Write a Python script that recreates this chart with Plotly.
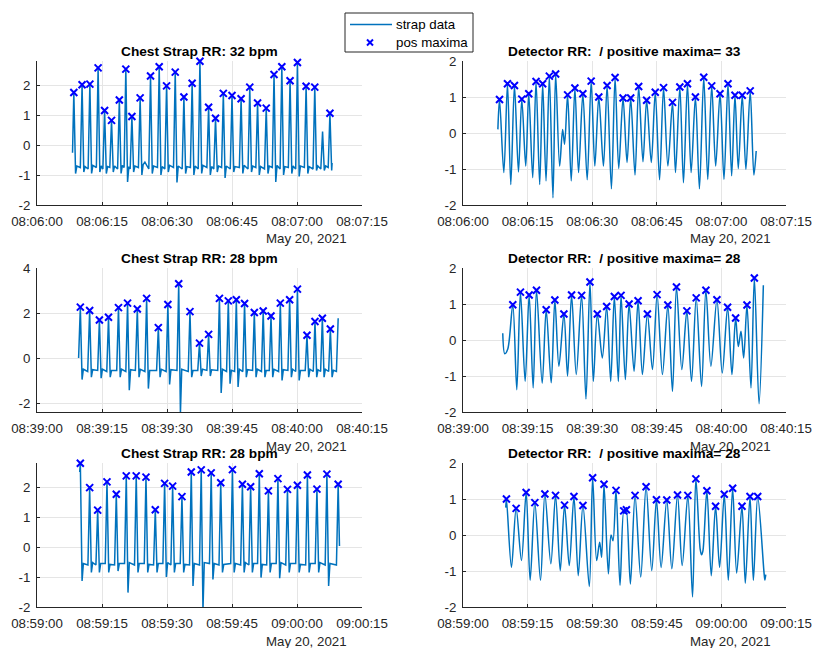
import plotly.graph_objects as go
import pandas as pd

# ---------------- data (seconds after the start minute, values) ----------------
base_times = ["2021-05-20 08:06:00", "2021-05-20 08:39:00", "2021-05-20 08:59:00"]

# Row 1, chest strap
tl_peak_t = [8.5, 10.4, 12.2, 14.1, 15.6, 17.2, 19.0, 20.5, 21.9, 23.8, 26.2, 28.2, 29.9, 31.9, 33.9, 35.8,
             37.6, 39.6, 41.2, 43.0, 45.0, 47.1, 49.1, 50.9, 52.9, 54.7, 56.5, 58.4, 60.1, 62.1, 64.1, 67.6]
tl_peak_v = [1.75, 2.01, 2.03, 2.57, 1.15, 0.82, 1.50, 2.53, 0.95, 1.57, 2.30, 2.61, 1.97, 2.43, 1.60, 2.06,
             2.79, 1.26, 0.89, 1.72, 1.65, 1.54, 1.93, 1.40, 1.23, 2.35, 2.61, 2.14, 2.75, 1.96, 1.93, 1.06]
tl_other_t = [8.2, 8.9, 10.0, 10.8, 11.8, 12.6, 13.7, 14.5, 15.2, 16.0, 16.8, 17.6, 18.6, 19.4, 20.1, 20.9,
              21.5, 22.3, 23.4, 24.2, 24.9, 25.8, 26.6, 27.8, 28.6, 29.5, 30.3, 31.5, 32.3, 33.5, 34.3, 35.4,
              36.2, 37.2, 38.0, 39.2, 40.0, 40.8, 41.6, 42.6, 43.4, 44.6, 45.4, 46.7, 47.5, 48.7, 49.5, 50.5,
              51.3, 52.5, 53.3, 54.3, 55.1, 56.1, 56.9, 58.0, 58.8, 59.7, 60.5, 61.7, 62.5, 63.7, 64.5, 65.5,
              65.9, 66.3, 67.2, 68.0, 68.1]
tl_other_v = [-0.26, -0.95, -0.75, -0.9, -0.8, -0.95, -0.75, -0.9, -0.8, -0.95, -0.75, -0.9, -0.8, -0.95, -0.75,
              -1.23, -0.8, -0.9, -0.75, -1.0, -0.57, -0.8, -0.95, -0.75, -1.0, -0.8, -0.9, -0.75, -1.25, -0.8,
              -0.95, -0.75, -1.0, -0.8, -0.95, -0.75, -1.0, -0.8, -0.9, -0.75, -1.1, -0.8, -0.9, -0.75, -0.95,
              -0.8, -0.9, -0.75, -1.0, -0.8, -0.95, -0.75, -1.23, -0.8, -1.0, -0.75, -0.95, -0.8, -1.05, -0.75,
              -0.95, -0.8, -0.85, -0.8, 0.45, -0.85, -0.75, -0.85, -0.6]
tl_rec_t = [9.2, 11.1, 12.9, 14.8, 16.3, 17.9, 19.7, 21.2, 22.6, 24.5, 26.9, 28.9, 30.6, 32.6, 34.6, 36.5,
            38.3, 40.3, 41.9, 43.7, 45.7, 47.8, 49.8, 51.6, 53.6, 55.4, 57.2, 59.1, 60.8, 62.8, 64.8, 66.6]
tl_rec_v = [-0.7, -0.72, -0.68, -0.7, -0.72, -0.7, -0.68, -0.72, -0.7, -0.65, -0.7, -0.72, -0.68, -0.7, -0.72,
            -0.7, -0.68, -0.72, -0.7, -0.7, -0.72, -0.68, -0.7, -0.72, -0.7, -0.68, -0.72, -0.7, -0.7, -0.72,
            -0.7, -0.7]

# Row 1, detector
tr_peak_t = [8.48, 10.33, 11.95, 13.65, 15.27, 16.96, 18.50, 20.05, 21.51, 24.29, 25.98, 27.83, 29.76, 31.53,
             33.46, 35.31, 37.16, 38.94, 40.79, 42.64, 44.64, 46.57, 48.65, 50.35, 52.12, 53.97, 55.90, 57.75,
             59.68, 61.53, 63.15, 64.84, 66.69]
tr_peak_v = [0.93, 1.37, 1.32, 0.94, 1.09, 1.43, 1.37, 1.58, 1.64, 1.06, 1.25, 1.09, 1.44, 1.00, 1.32, 1.54,
             0.97, 0.97, 1.29, 0.91, 1.13, 1.26, 0.85, 1.28, 1.37, 1.00, 1.55, 1.31, 1.09, 1.37, 1.05, 1.05, 1.17]
tr_other_t = [8.1, 9.48, 11.1, 12.88, 14.57, 16.19, 17.81, 19.28, 20.89, 22.44, 23.13, 23.59, 25.13, 26.83,
              28.84, 30.61, 32.61, 34.46, 36.16, 38.09, 39.94, 41.79, 43.72, 45.64, 47.57, 49.34, 51.19, 52.97,
              54.9, 56.83, 58.67, 60.6, 62.38, 63.92, 65.69, 67.54, 68.08]
tr_other_v = [0.1, -1.1, -1.43, -1.08, -0.92, -1.24, -1.43, -1.33, -1.8, -0.92, 0.1, -0.31, -1.33, -1.1, -1.3,
              -0.92, -0.92, -1.55, -0.99, -0.82, -1.17, -0.8, -0.82, -1.3, -0.92, -1.1, -1.38, -1.1, -1.55,
              -1.29, -0.92, -1.29, -1.19, -0.99, -1.01, -1.17, -0.5]

# Row 2, chest strap
ml_peak_t = [10.0, 12.15, 14.4, 16.5, 18.8, 20.9, 23.15, 25.3, 28.0, 30.2, 32.7, 35.3, 37.5, 39.6, 42.1, 44.15,
             46.0, 47.9, 50.15, 52.2, 54.0, 56.15, 58.3, 60.1, 62.3, 64.15, 65.85, 67.7]
ml_peak_v = [2.26, 2.11, 1.69, 1.81, 2.24, 2.44, 2.18, 2.65, 1.35, 2.38, 3.30, 2.06, 0.66, 1.05, 2.65, 2.54,
             2.59, 2.42, 2.02, 2.09, 1.87, 2.44, 2.59, 3.06, 1.01, 1.62, 1.77, 1.29]
ml_other_t = [9.6, 10.4, 11.7, 12.55, 14.0, 14.8, 16.1, 16.9, 18.4, 19.2, 20.5, 21.3, 22.7, 23.55, 24.9, 25.7,
              27.6, 28.4, 29.8, 30.6, 32.3, 33.1, 34.9, 35.7, 37.1, 37.9, 39.2, 40.0, 41.7, 42.5, 43.75, 44.55,
              45.6, 46.4, 47.5, 48.3, 49.75, 50.55, 51.8, 52.6, 53.6, 54.4, 55.75, 56.55, 57.9, 58.7, 59.7, 60.5,
              61.9, 62.7, 63.75, 64.55, 65.45, 66.25, 67.3, 68.1, 69.1, 69.5]
ml_other_v = [0.0, -0.96, -0.6, -0.85, -0.55, -0.9, -0.6, -0.85, -0.55, -0.85, -0.6, -1.43, -0.55, -0.85, -0.6,
              -1.36, -0.55, -0.85, -0.6, -1.18, -0.55, -2.45, -0.6, -0.85, -0.55, -0.8, -0.55, -0.8, -0.55,
              -1.55, -0.6, -1.14, -0.6, -1.29, -0.6, -0.85, -0.55, -0.85, -0.6, -0.85, -0.55, -0.85, -0.6, -1.0,
              -0.55, -0.85, -0.6, -1.0, -0.55, -0.85, -0.6, -0.85, -0.6, -0.85, -0.6, -0.85, -0.6, 1.77]
ml_rec_t = [10.7, 12.85, 15.1, 17.2, 19.5, 21.6, 23.85, 26.0, 28.7, 30.9, 33.4, 36.0, 38.2, 40.3, 42.8, 44.85,
            46.7, 48.6, 50.85, 52.9, 54.7, 56.85, 59.0, 60.8, 63.0, 64.85, 66.55, 68.4]
ml_rec_v = [-0.5, -0.52, -0.5, -0.55, -0.5, -0.52, -0.5, -0.55, -0.5, -0.52, -0.5, -0.55, -0.5, -0.52, -0.5,
            -0.55, -0.5, -0.52, -0.5, -0.55, -0.5, -0.52, -0.5, -0.55, -0.5, -0.52, -0.5, -0.55]

# Row 2, detector
mr_peak_t = [11.56, 13.34, 15.36, 17.07, 19.32, 21.33, 23.43, 25.21, 27.54, 29.48, 31.19, 33.36, 35.14, 36.70,
             38.56, 40.65, 42.82, 45.07, 47.56, 49.57, 51.98, 54.15, 56.40, 58.96, 61.44, 63.30, 65.94, 67.65]
mr_peak_v = [0.98, 1.33, 1.25, 1.38, 0.84, 1.11, 0.72, 1.25, 1.24, 1.61, 0.72, 0.93, 1.21, 1.24, 1.00, 1.09,
             0.72, 1.26, 0.97, 1.47, 0.81, 1.17, 1.38, 1.12, 0.91, 0.61, 0.97, 1.72]
mr_other_t = [9.23, 9.70, 10.40, 12.49, 14.43, 16.29, 18.39, 20.48, 22.27, 24.28, 26.3, 28.55, 30.26, 32.35,
              34.29, 36.07, 37.70, 39.72, 41.66, 43.99, 46.31, 48.64, 50.81, 53.06, 55.39, 57.56, 60.2, 62.45,
              63.93, 64.55, 65.17, 66.87, 68.74, 69.74]
mr_other_v = [0.19, -0.38, -0.25, -1.38, -1.15, -1.33, -1.2, -1.19, -0.73, -1.0, -0.96, -1.64, -1.15, -0.5,
              -1.15, -1.15, -1.1, -0.87, -0.96, -0.82, -0.96, -1.43, -0.82, -1.15, -1.29, -0.73, -0.92, -0.96,
              -0.18, 0.24, -0.5, -1.33, -1.77, 1.52]

# Row 3, chest strap
bl_peak_t = [10.0, 12.15, 14.0, 16.15, 18.3, 20.6, 22.9, 25.15, 27.3, 29.45, 31.3, 33.45, 35.6, 37.9, 40.2,
             42.4, 45.1, 47.4, 49.3, 51.3, 53.4, 55.6, 57.8, 60.1, 62.4, 64.6, 66.9, 69.5]
bl_peak_v = [2.79, 1.98, 1.23, 2.17, 1.76, 2.37, 2.37, 2.33, 1.24, 2.12, 2.03, 1.68, 2.50, 2.57, 2.47, 2.14,
             2.58, 2.09, 2.01, 2.44, 1.87, 2.28, 1.92, 2.06, 2.40, 1.93, 2.43, 2.09]
bl_other_t = [9.85, 10.4, 11.75, 12.55, 13.6, 14.4, 15.75, 16.55, 17.9, 18.7, 20.2, 21.0, 22.5, 23.3, 24.75,
              25.55, 26.9, 27.7, 29.05, 29.85, 30.9, 31.7, 33.05, 33.85, 35.2, 36.0, 37.5, 38.3, 39.8, 40.6,
              42.0, 42.8, 44.7, 45.5, 47.0, 47.8, 48.9, 49.7, 50.9, 51.7, 53.0, 53.8, 55.2, 56.0, 57.4, 58.2,
              59.7, 60.5, 62.0, 62.8, 64.2, 65.0, 66.5, 67.3, 69.1, 69.8]
bl_other_v = [2.5, -1.13, -0.6, -0.85, -0.6, -0.85, -0.55, -0.85, -0.6, -0.8, -0.55, -1.52, -0.6, -0.85, -0.55,
              -0.85, -0.6, -0.85, -0.55, -1.0, -0.6, -0.85, -0.55, -0.85, -0.6, -1.3, -0.6, -2.1, -0.55, -1.08,
              -0.6, -0.85, -0.55, -0.85, -0.6, -0.85, -0.6, -0.85, -0.55, -1.02, -0.6, -0.85, -0.55, -1.04,
              -0.6, -0.85, -0.55, -0.85, -0.6, -0.85, -0.55, -0.85, -0.6, -1.3, -0.6, 0.03]
bl_rec_t = [10.7, 12.85, 14.7, 16.85, 19.0, 21.3, 23.6, 25.85, 28.0, 30.15, 32.0, 34.15, 36.3, 38.6, 40.9,
            43.1, 45.8, 48.1, 50.0, 52.0, 54.1, 56.3, 58.5, 60.8, 63.1, 65.3, 67.6]
bl_rec_v = [-0.55, -0.52, -0.55, -0.58, -0.55, -0.52, -0.55, -0.58, -0.55, -0.52, -0.55, -0.58, -0.55, -0.52,
            -0.55, -0.58, -0.55, -0.52, -0.55, -0.58, -0.55, -0.52, -0.55, -0.58, -0.55, -0.52, -0.55]

# Row 3, detector
br_peak_t = [10.09, 12.34, 14.66, 16.68, 19.01, 21.49, 23.58, 25.76, 27.85, 30.10, 32.74, 35.53, 37.32, 37.94,
             39.95, 42.51, 44.92, 47.32, 49.81, 52.21, 54.07, 56.63, 58.65, 60.67, 62.61, 64.78, 66.64, 68.43]
br_peak_v = [1.00, 0.74, 1.18, 0.90, 1.14, 1.10, 0.83, 1.07, 0.82, 1.59, 1.41, 1.24, 0.67, 0.70, 1.10, 1.34,
             0.98, 0.97, 1.11, 1.10, 1.56, 1.23, 0.80, 1.13, 1.30, 0.80, 1.07, 1.07]
br_other_t = [9.93, 11.25, 13.58, 15.59, 18.0, 20.4, 22.58, 24.67, 26.76, 29.33, 31.03, 31.73, 32.2, 33.75,
              34.37, 34.83, 36.46, 37.63, 38.87, 41.27, 43.83, 46.0, 48.49, 50.89, 53.3, 55.08, 55.39, 55.7,
              57.64, 59.58, 61.6, 63.54, 65.55, 67.42, 69.9, 70.1, 70.3]
br_other_v = [0.76, -0.9, -0.71, -1.26, -1.26, -0.8, -0.99, -0.85, -1.13, -1.43, -0.71, -0.2, -0.62, -1.08, 0.0,
              -0.16, -1.4, 0.6, -1.36, -1.17, -0.99, -0.9, -0.94, -0.85, -1.72, -0.4, -0.55, -0.45, -1.13, -0.9,
              -1.26, -1.06, -1.34, -1.26, -1.05, -1.25, -1.1]

titles = ["Chest Strap RR: 32 bpm", "Detector RR: \u00a0/ positive maxima= 33",
          "Chest Strap RR: 28 bpm", "Detector RR: \u00a0/ positive maxima= 28",
          "Chest Strap RR: 28 bpm", "Detector RR: \u00a0/ positive maxima= 28"]
legend_labels = ["strap data", "pos maxima"]
date_label = "May 20, 2021"
x_span_s = 75
x_step_s = 15
y_ranges = [[-2, 2.8], [-2, 2], [-2.4, 4], [-2, 2], [-2, 2.8], [-2, 2]]
y_ticks = [[-2, -1, 0, 1, 2], [-2, -1, 0, 1, 2], [-2, 0, 2, 4], [-2, -1, 0, 1, 2],
           [-2, -1, 0, 1, 2], [-2, -1, 0, 1, 2]]

# ---------------- figure ----------------
W, H = 814, 648
FONT = "Liberation Sans, Arial, Helvetica, sans-serif"
LINE_BLUE = "#0072BD"
MARK_BLUE = "#0000FF"
AX = "#262626"
GRID = "#e5e5e5"

col_px = [(37, 362), (463, 786)]
row_px = [(61, 205), (268, 412), (463, 607)]


def px(x):
    return x / W


def py(y):
    return 1 - y / H


panels = [
    (0, 0, tl_peak_t, tl_peak_v, tl_other_t + tl_rec_t, tl_other_v + tl_rec_v, "linear"),
    (0, 1, tr_peak_t, tr_peak_v, tr_other_t, tr_other_v, "spline"),
    (1, 0, ml_peak_t, ml_peak_v, ml_other_t + ml_rec_t, ml_other_v + ml_rec_v, "linear"),
    (1, 1, mr_peak_t, mr_peak_v, mr_other_t, mr_other_v, "spline"),
    (2, 0, bl_peak_t, bl_peak_v, bl_other_t + bl_rec_t, bl_other_v + bl_rec_v, "linear"),
    (2, 1, br_peak_t, br_peak_v, br_other_t, br_other_v, "spline"),
]

MARKER = dict(symbol="x-thin", size=7, color=MARK_BLUE, line=dict(width=2, color=MARK_BLUE))

fig = go.Figure()
annotations = []
shapes = []
layout_axes = {}

for i, (r, c, pk_t, pk_v, ot_t, ot_v, shape) in enumerate(panels):
    assert len(pk_t) == len(pk_v) and len(ot_t) == len(ot_v)
    n = i + 1
    base = pd.Timestamp(base_times[r])
    pts = sorted(zip(pk_t + ot_t, pk_v + ot_v))
    lt = [base + pd.to_timedelta(t, unit="s") for t, _ in pts]
    lv = [v for _, v in pts]
    mt = [base + pd.to_timedelta(t, unit="s") for t in pk_t]

    xa = "x" if n == 1 else f"x{n}"
    ya = "y" if n == 1 else f"y{n}"
    fig.add_trace(go.Scatter(x=lt, y=lv, mode="lines", name=legend_labels[0],
                             line=dict(color=LINE_BLUE, width=1.5, shape=shape, smoothing=0.9),
                             xaxis=xa, yaxis=ya, showlegend=False))
    fig.add_trace(go.Scatter(x=mt, y=pk_v, mode="markers", name=legend_labels[1],
                             marker=MARKER, cliponaxis=False,
                             xaxis=xa, yaxis=ya, showlegend=False))

    x0, x1 = col_px[c]
    y0, y1 = row_px[r]
    end = base + pd.to_timedelta(x_span_s, unit="s")
    layout_axes["xaxis" if n == 1 else f"xaxis{n}"] = dict(
        domain=[px(x0), px(x1)], anchor=ya, type="date",
        range=[base, end], tick0=base, dtick=x_step_s * 1000, tickformat="%H:%M:%S",
        showgrid=True, gridcolor=GRID, gridwidth=1,
        showline=True, linecolor=AX, linewidth=1, mirror=False,
        ticks="inside", ticklen=3, tickcolor=AX, zeroline=False,
        tickfont=dict(family=FONT, size=13.3, color=AX),
        ticklabelstandoff=4, automargin=False)
    layout_axes["yaxis" if n == 1 else f"yaxis{n}"] = dict(
        domain=[py(y1), py(y0)], anchor=xa, range=y_ranges[i],
        tickvals=y_ticks[i], ticktext=[str(v) for v in y_ticks[i]],
        showgrid=True, gridcolor=GRID, gridwidth=1,
        showline=True, linecolor=AX, linewidth=1, mirror=False,
        ticks="inside", ticklen=3, tickcolor=AX, zeroline=False,
        tickfont=dict(family=FONT, size=13.3, color=AX),
        ticklabelstandoff=3, automargin=False)

    annotations.append(dict(text=f"<b>{titles[i]}</b>", xref="paper", yref="paper",
                            x=px((x0 + x1) / 2), y=py(y0), xanchor="center", yanchor="bottom",
                            showarrow=False, font=dict(family=FONT, size=13.7, color="#000000")))
    annotations.append(dict(text=date_label, xref="paper", yref="paper",
                            x=px(x1 - 56), y=py(y1), xanchor="center", yanchor="middle",
                            yshift=-34, showarrow=False,
                            font=dict(family=FONT, size=13.3, color=AX)))

# ---- legend box (MATLAB style) drawn with paper-referenced shapes ----
LX0, LX1, LY0, LY1 = 345, 473, 13, 52
ROW1, ROW2 = 24.5, 42.5
MX, MS = 370, 3
shapes.append(dict(type="rect", xref="paper", yref="paper", x0=px(LX0), x1=px(LX1),
                   y0=py(LY1), y1=py(LY0), line=dict(color=AX, width=1), fillcolor="white"))
shapes.append(dict(type="line", xref="paper", yref="paper", x0=px(350), x1=px(392),
                   y0=py(ROW1), y1=py(ROW1), line=dict(color=LINE_BLUE, width=1.5)))
for dy in (-MS, MS):
    shapes.append(dict(type="line", xref="paper", yref="paper", x0=px(MX - MS), x1=px(MX + MS),
                       y0=py(ROW2 - dy), y1=py(ROW2 + dy), line=dict(color=MARK_BLUE, width=2)))
for lbl, yy in zip(legend_labels, [ROW1, ROW2]):
    annotations.append(dict(text=lbl, xref="paper", yref="paper", x=px(394), y=py(yy),
                            xanchor="left", yanchor="middle", showarrow=False,
                            font=dict(family=FONT, size=13.3, color="#000000")))

fig.update_layout(**layout_axes)
fig.update_layout(
    width=W, height=H, margin=dict(l=0, r=0, t=0, b=0),
    paper_bgcolor="white", plot_bgcolor="white",
    font=dict(family=FONT, size=13.3, color=AX),
    annotations=annotations, shapes=shapes,
    showlegend=False,
)

fig.write_html("out.html", config={"displayModeBar": False},
               post_script="document.body.style.margin='0';document.body.style.padding='0';")
